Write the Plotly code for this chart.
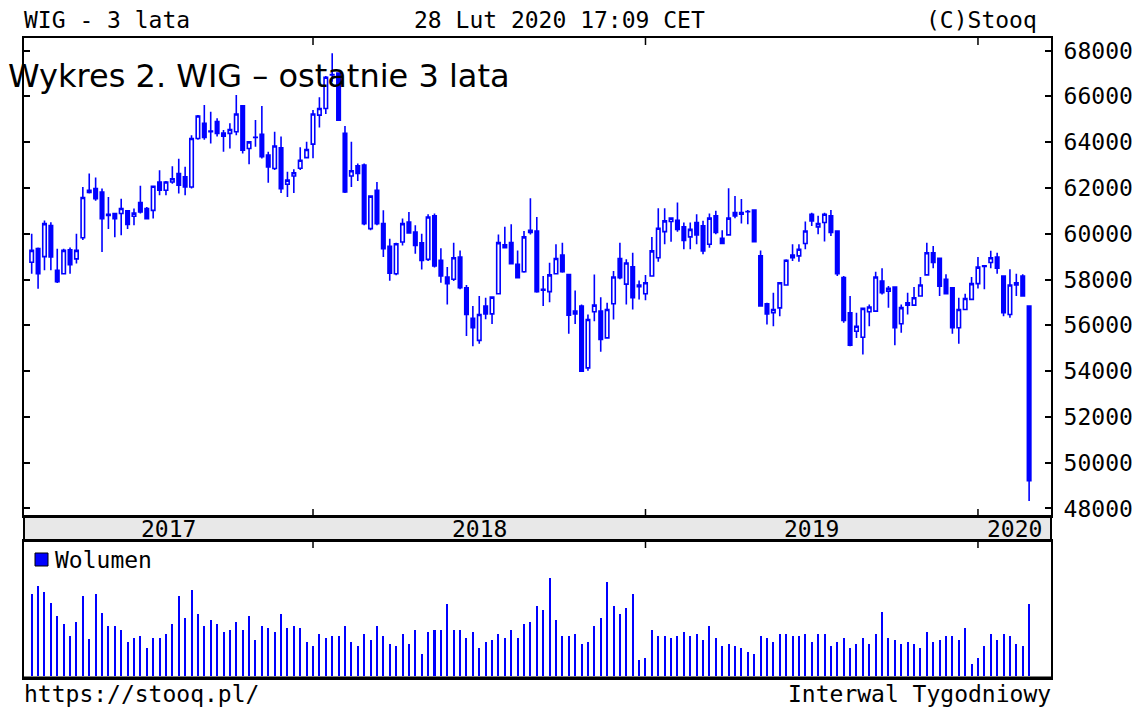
import plotly.graph_objects as go
import pandas as pd

# ---------------- data (weekly WIG candles) ----------------
OPEN = [58750, 59350, 59000, 60360, 58400, 58250, 59300, 58900, 59820, 61900,
        61970, 61820, 60850, 60880, 60880, 61000, 60760, 61360, 61100, 61020,
        62260, 61900, 62260, 62630, 62480, 62040, 64160, 64820, 64480, 64900,
        64400, 64380, 64450, 65590, 63720, 64200, 64340, 63430, 62850, 63750,
        62160, 62520, 62860, 63320, 63910, 65180, 65470, 66930, 67010, 64380,
        62520, 62960, 63000, 60220, 61900, 60440, 59450, 58250, 59640, 60510,
        60070, 59600, 58880, 60780, 58840, 58110, 58010, 58980, 57640, 56300,
        55340, 56840, 56500, 57380, 59510, 59610, 58660, 58340, 60150, 60120,
        57570, 57470, 58250, 59070, 58220, 56620, 56840, 54140, 56590, 56620,
        55450, 56940, 58920, 57800, 58550, 57760, 57380, 58150, 58950, 60090,
        60530, 60590, 60300, 59860, 60490, 60340, 59540, 60780, 59800, 59950,
        60920, 60920, 60960, 61030, 59030, 56940, 56550, 56760, 57760, 59070,
        59030, 59570, 60850, 60300, 60490, 60780, 60120, 58080, 56550, 55740,
        55480, 56590, 56620, 57930, 57490, 57670, 56070, 56980, 56880, 57280,
        58200, 59170, 58930, 58010, 57640, 55890, 56690, 57130, 57820, 58570,
        58740, 58980, 58150, 56470, 57760, 58150, 56840]
HIGH = [60000, 59400, 60580, 60500, 59340, 59340, 59400, 60000, 62040, 62630,
        62450, 61970, 61600, 60880, 61530, 61020, 61100, 62090, 61170, 62070,
        62770, 62300, 62950, 63270, 62920, 64300, 65180, 65620, 65330, 65040,
        64530, 64820, 66060, 65620, 64010, 64970, 65580, 63580, 64450, 64240,
        62700, 62810, 63770, 64010, 65400, 65960, 66890, 67880, 67010, 64700,
        64010, 63070, 63070, 61680, 62260, 61020, 59780, 59600, 60660, 60950,
        60370, 60000, 60850, 60880, 59360, 58550, 59610, 59270, 57760, 56840,
        57280, 57200, 57270, 59970, 60300, 60410, 59270, 60120, 61550, 60730,
        58150, 58730, 59540, 59610, 58220, 57520, 56910, 56470, 58220, 57230,
        56980, 58370, 59610, 58880, 59170, 57960, 58200, 59860, 61110, 61110,
        60680, 61360, 60490, 60490, 60850, 60560, 60880, 61000, 60150, 61990,
        61650, 61510, 61030, 61030, 59270, 56980, 57420, 57860, 58880, 59540,
        59540, 60530, 60920, 60780, 60920, 61030, 60120, 58150, 57280, 56550,
        56770, 56910, 58340, 58490, 57720, 57670, 56910, 57420, 57670, 58110,
        59610, 59460, 58930, 58230, 57670, 57200, 57380, 58110, 58980, 58600,
        59250, 59170, 58150, 58450, 58250, 58230, 56840]
LOW = [58250, 57600, 58400, 58400, 57850, 58250, 58250, 58700, 59730, 61750,
       61440, 59200, 60200, 59850, 59930, 60200, 60370, 60880, 60660, 60660,
       61680, 61680, 62180, 61750, 61680, 61970, 64100, 64100, 63940, 64240,
       63580, 63720, 64300, 63500, 63030, 63800, 63280, 62220, 62780, 61780,
       61600, 61780, 62780, 63290, 63290, 64640, 65230, 66640, 64960, 61780,
       62040, 62300, 60370, 60150, 60370, 58980, 57940, 58180, 59490, 60000,
       59120, 58440, 58810, 58520, 57860, 56910, 57930, 57570, 55530, 55090,
       55190, 56260, 56060, 57350, 59360, 58660, 58050, 58300, 59960, 57420,
       56840, 57010, 58220, 58300, 55630, 56060, 53960, 54020, 56180, 54840,
       55420, 56250, 58010, 56910, 56690, 57130, 57090, 58150, 58780, 59540,
       59650, 60090, 59320, 59320, 59540, 59100, 59390, 59980, 59570, 59950,
       60680, 60440, 60410, 59650, 56840, 56040, 55960, 56400, 57760, 58810,
       58780, 59320, 60340, 59980, 59660, 59900, 58150, 56110, 55090, 55450,
       54720, 55960, 56590, 57350, 56770, 55130, 55670, 56470, 56880, 57280,
       58200, 58490, 57280, 57350, 55630, 55190, 56690, 57130, 57610, 57570,
       58490, 58250, 56400, 56330, 57280, 57280, 48330]
CLOSE = [59270, 58250, 60440, 58980, 57900, 59270, 58650, 59270, 61580, 61800,
         61530, 60660, 60800, 60660, 61100, 60400, 60900, 60950, 60660, 62070,
         61900, 62260, 62400, 62120, 62040, 64160, 65140, 64200, 64450, 64380,
         64260, 64550, 65230, 63650, 64010, 64210, 63360, 62920, 63830, 61970,
         62340, 62660, 63210, 63680, 65230, 65470, 66830, 66950, 64960, 61820,
         62750, 62630, 60440, 61640, 60440, 59340, 58280, 59560, 60440, 60030,
         59490, 58830, 60730, 58590, 58150, 57820, 58950, 57640, 56470, 55890,
         56470, 56500, 57230, 59610, 59390, 58690, 58080, 59860, 60050, 57470,
         57530, 58200, 58920, 58340, 56440, 56500, 53990, 56250, 56880, 55380,
         56690, 58110, 58080, 58720, 57200, 57680, 57860, 59250, 60240, 60560,
         60680, 60190, 59710, 60190, 59950, 59250, 60680, 60050, 59570, 60680,
         60780, 60850, 60970, 59650, 56840, 56500, 56690, 57860, 58840, 58950,
         59320, 60120, 60560, 60440, 60850, 60050, 58250, 56210, 55130, 55960,
         56740, 56800, 58110, 57420, 57620, 55890, 56770, 56880, 57200, 57760,
         59170, 58740, 57710, 57380, 55890, 56690, 57170, 57820, 58540, 58600,
         58950, 58490, 56550, 57760, 57860, 57280, 49210]
VOLUME = [8200, 9030, 8430, 7270, 6000, 5200, 4000, 5430, 8000, 3670,
          8200, 6270, 5000, 5000, 4600, 3430, 3800, 4000, 2830, 3800,
          3800, 4200, 5200, 8000, 5830, 8600, 6200, 5000, 5600, 5200,
          4400, 4600, 5400, 4600, 6000, 3600, 5000, 4800, 4400, 6200,
          4800, 5000, 4800, 3400, 3000, 4200, 3800, 4000, 4000, 5000,
          3400, 3000, 4200, 3600, 5000, 4000, 3200, 3000, 4200, 3200,
          4600, 2200, 4400, 4600, 4600, 7200, 4600, 4600, 3800, 4400,
          2800, 3400, 3600, 4200, 3800, 4600, 3800, 5200, 5400, 7000,
          6600, 9830, 5600, 4000, 4000, 4200, 3200, 3400, 5000, 5800,
          9430, 7000, 6200, 6800, 8200, 1600, 1800, 4600, 4000, 4000,
          3800, 4000, 4400, 4000, 4200, 3600, 5000, 3800, 3000, 3200,
          3000, 2800, 2400, 2200, 4000, 3800, 3400, 4200, 4200, 4000,
          4000, 4200, 3400, 4200, 4200, 3000, 3400, 3800, 2800, 3200,
          3800, 3200, 4200, 6430, 3800, 3600, 3200, 3400, 3200, 2800,
          4400, 3400, 3600, 4000, 4000, 3600, 4800, 1200, 1800, 3000,
          4200, 3600, 4200, 4000, 3200, 3000, 7200]
FIRST_WEEK = "2017-02-27"
PRICE_TICKS = [48000, 50000, 52000, 54000, 56000, 58000, 60000, 62000, 64000, 66000, 68000]
YEAR_LABELS = ["2017", "2018", "2019", "2020"]
YEAR_STARTS = ["2018-01-01", "2018-12-31", "2019-12-30"]   # first weekly candle of a year

WEEKS = pd.date_range(FIRST_WEEK, periods=len(OPEN), freq="7D")

# ---------------- layout helpers ----------------
W, H = 1133, 709          # design size of the picture
BLUE = "#0000ff"
MONO = "DejaVu Sans Mono"
FS = 23


def px(x):
    return x / W


def py(y):
    return 1 - y / H


X0, X1 = 24, 1051          # plot frame left/right
MAIN_T, MAIN_B = 38, 516   # main panel top/bottom
VOL_T, VOL_B = 541, 678    # volume panel top/bottom

x_start = pd.Timestamp("2017-02-18 14:00")
x_end = pd.Timestamp("2020-03-18 23:00")

fig = go.Figure()
fig.add_trace(go.Candlestick(
    x=WEEKS, open=OPEN, high=HIGH, low=LOW, close=CLOSE,
    increasing=dict(line=dict(color=BLUE, width=1.6), fillcolor="white"),
    decreasing=dict(line=dict(color=BLUE, width=1.6), fillcolor=BLUE),
    whiskerwidth=0, xaxis="x", yaxis="y", showlegend=False, hoverinfo="skip",
))
fig.add_trace(go.Bar(
    x=WEEKS, y=VOLUME, width=1000 * 3600 * 24 * 2.2,
    marker=dict(color=BLUE, line=dict(width=0)),
    xaxis="x2", yaxis="y2", showlegend=False, hoverinfo="skip",
))

frame = dict(showline=True, linecolor="black", linewidth=2,
             showgrid=False, zeroline=False)

fig.update_layout(
    autosize=True, margin=dict(l=0, r=0, t=0, b=0, autoexpand=False),
    paper_bgcolor="white", plot_bgcolor="white",
    showlegend=False, bargap=0, boxgroupgap=0.22,
    xaxis=dict(domain=[px(X0), px(X1)], range=[x_start, x_end], type="date",
               showticklabels=False, ticks="", rangeslider=dict(visible=False),
               anchor="y", mirror=True, **frame),
    yaxis=dict(domain=[py(MAIN_B), py(MAIN_T)], range=[47672, 68546], side="right",
               tickvals=PRICE_TICKS, ticktext=[str(v) for v in PRICE_TICKS],
               ticks="inside", ticklen=6, tickwidth=1.5, tickcolor="black",
               ticklabelstandoff=6,
               tickfont=dict(family=MONO, size=FS, color="black"),
               anchor="x", mirror="allticks", **frame),
    xaxis2=dict(domain=[px(X0), px(X1)], range=[x_start, x_end], type="date",
                showticklabels=False, ticks="", anchor="y2", mirror=True, **frame),
    yaxis2=dict(domain=[py(VOL_B), py(VOL_T)], range=[-200, 13500],
                showticklabels=False, ticks="", anchor="x2", mirror=True, **frame),
)

shapes = []
# year band
shapes.append(dict(type="rect", xref="paper", yref="paper", x0=px(X0), x1=px(X1),
                   y0=py(VOL_T), y1=py(MAIN_B), fillcolor="#e8e8e8",
                   line=dict(color="black", width=2), layer="below"))
# thicker bottom line of volume panel
shapes.append(dict(type="line", xref="paper", yref="paper", x0=px(X0), x1=px(X1),
                   y0=py(VOL_B), y1=py(VOL_B), line=dict(color="black", width=3)))
# year divider ticks
for d in YEAR_STARTS:
    for (ya, yb) in [(MAIN_T, MAIN_T + 7), (MAIN_B - 7, MAIN_B), (VOL_T, VOL_T + 7)]:
        shapes.append(dict(type="line", xref="x", yref="paper", x0=d, x1=d,
                           y0=py(ya), y1=py(yb), line=dict(color="black", width=1.5)))
# legend swatch
shapes.append(dict(type="rect", xref="paper", yref="paper", x0=px(35), x1=px(48),
                   y0=py(566), y1=py(553), fillcolor=BLUE,
                   line=dict(color="black", width=1)))
fig.update_layout(shapes=shapes)

ann = []
bounds = [x_start] + [pd.Timestamp(d) for d in YEAR_STARTS] + [x_end]
for i, lab in enumerate(YEAR_LABELS):
    mid = bounds[i] + (bounds[i + 1] - bounds[i]) / 2
    ann.append(dict(x=mid, y=py((MAIN_B + VOL_T) / 2), xref="x", yref="paper",
                    text=lab, showarrow=False, xanchor="center", yanchor="middle",
                    font=dict(family=MONO, size=FS, color="black")))


def txt(s, x, y, anchor, size=FS, family=MONO):
    ann.append(dict(x=px(x), y=py(y), xref="paper", yref="paper", text=s,
                    showarrow=False, xanchor=anchor, yanchor="middle",
                    font=dict(family=family, size=size, color="black")))


txt("WIG - 3 lata", 22, 20, "left")
txt("28 Lut 2020 17:09 CET", 559, 20, "center")
txt("(C)Stooq", 1039, 20, "right")
txt("https://stooq.pl/", 22, 694, "left")
txt("Interwal Tygodniowy", 1053, 694, "right")
txt("Wolumen", 53, 560, "left")
txt("Wykres 2. WIG – ostatnie 3 lata", 6, 76, "left", size=32, family="DejaVu Sans")
fig.update_layout(annotations=ann)

# the figure fills the whole browser viewport (pinned to its top-left corner)
fig.write_html(
    "out.html", config={"displayModeBar": False},
    default_width="100vw", default_height="100vh",
    post_script=("var gd=document.getElementById('{plot_id}');"
                 "gd.style.position='fixed';gd.style.top='0px';gd.style.left='0px';"
                 "document.body.style.margin='0';document.body.style.padding='0';"))
